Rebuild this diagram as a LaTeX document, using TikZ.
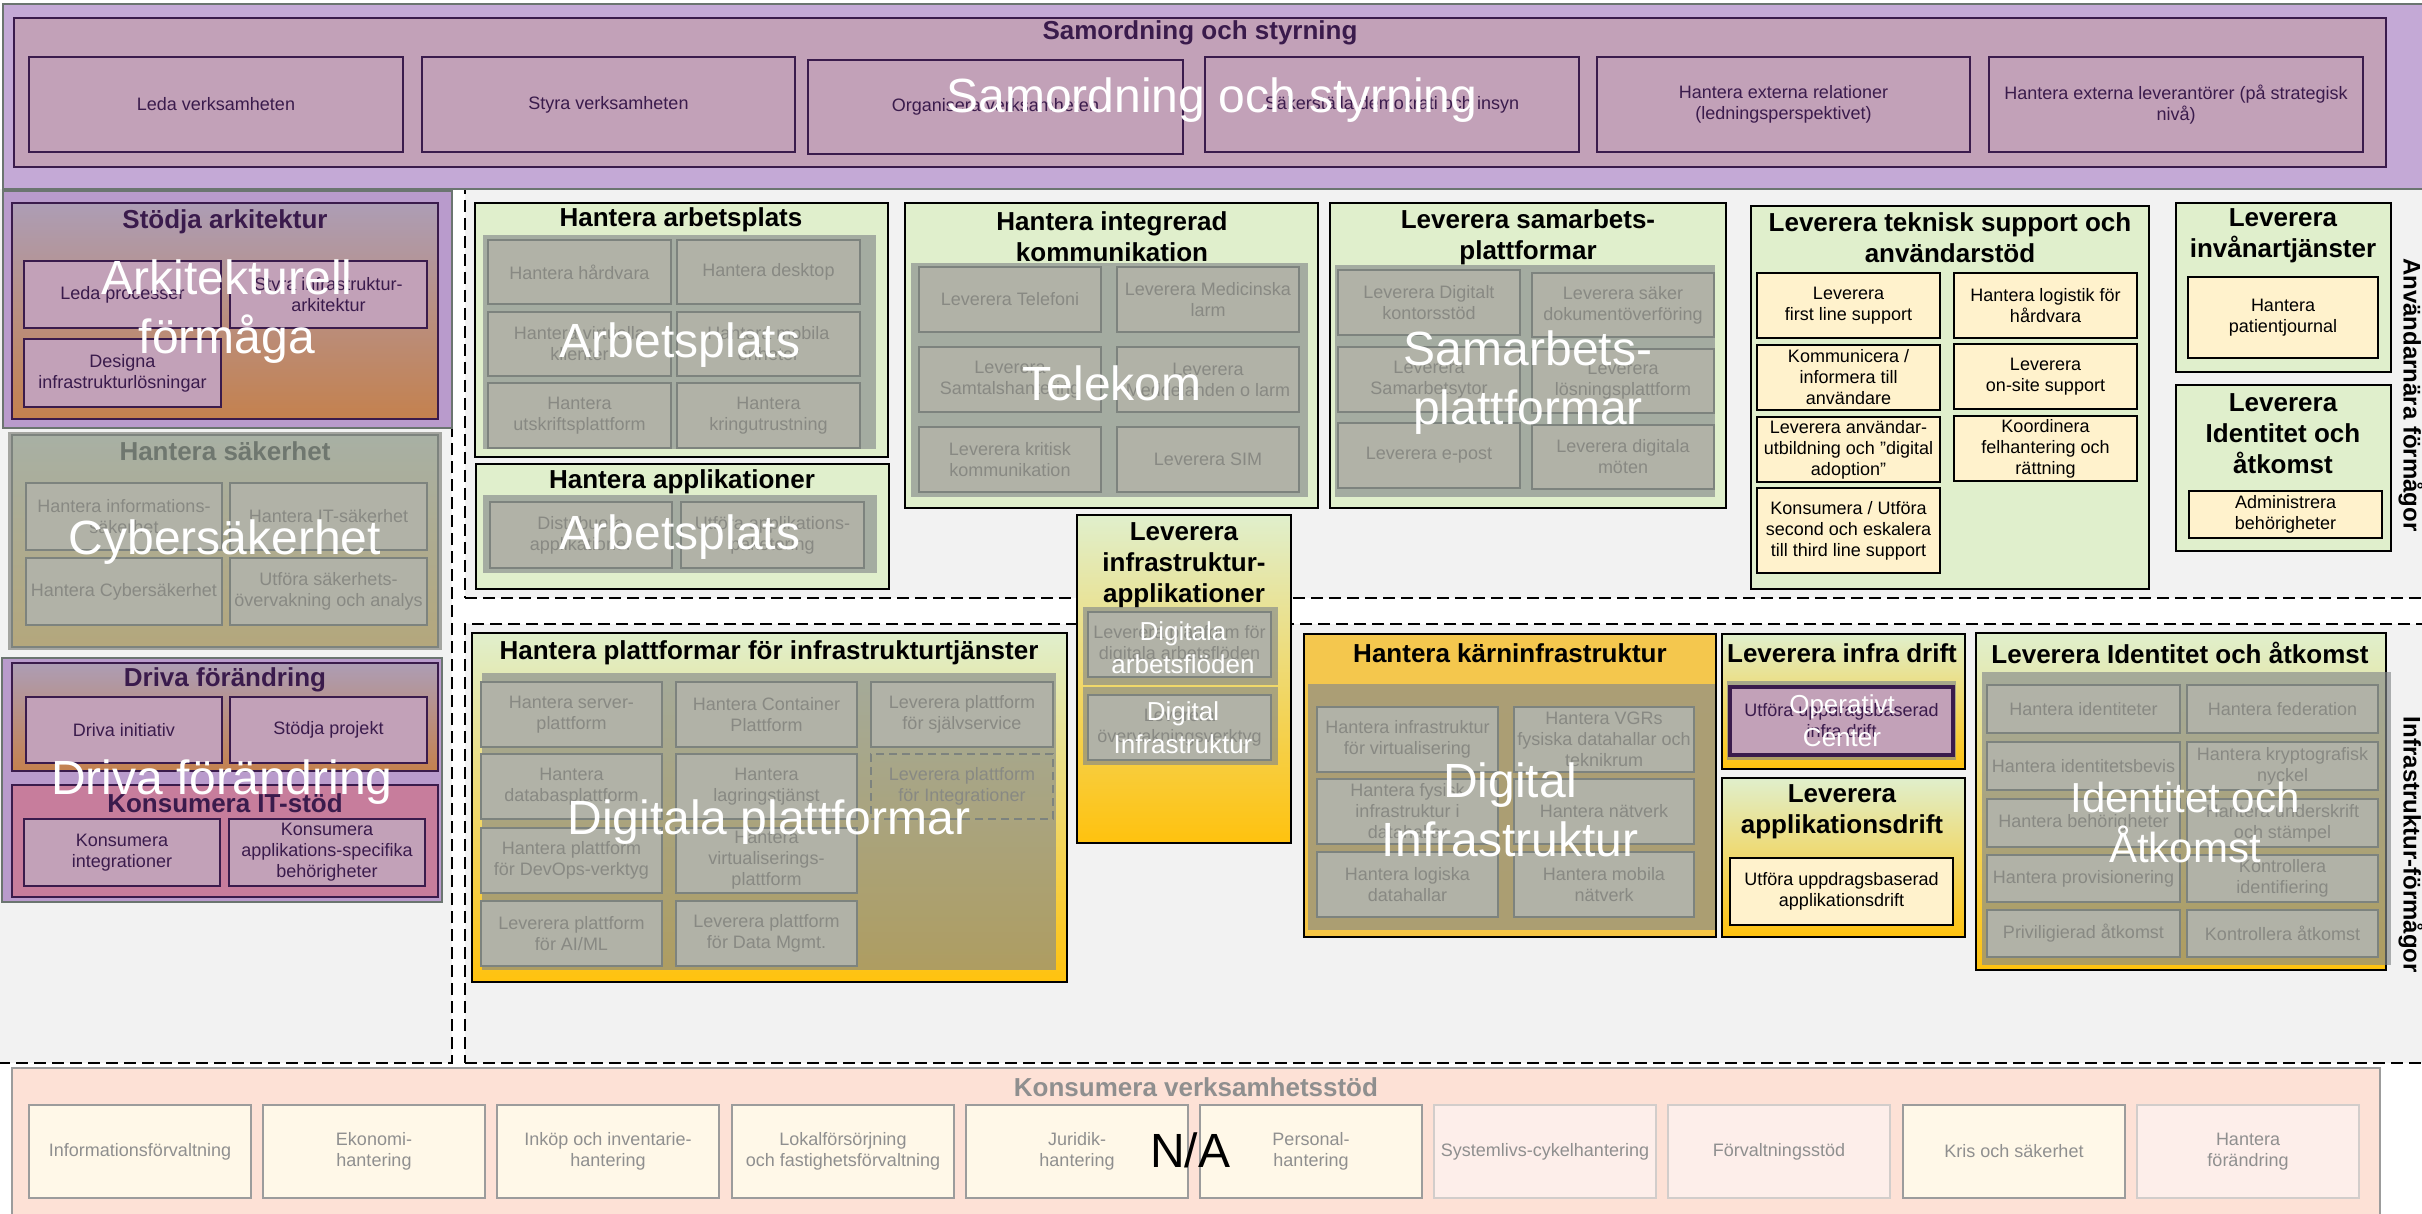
\documentclass[tikz,border=0pt]{standalone}
\usepackage{fontspec}
\setmainfont{Liberation Sans}
\definecolor{cBg}{HTML}{F2F2F2}
\definecolor{cBand}{HTML}{C4A9D6}
\definecolor{cBandLine}{HTML}{6B7570}
\definecolor{cMauve}{HTML}{C2A1B8}
\definecolor{cDark}{HTML}{3A1B4C}
\definecolor{cGrpP}{HTML}{B99BCC}
\definecolor{cGradTop}{HTML}{AD9DB5}
\definecolor{cGradBot}{HTML}{C4814E}
\definecolor{cPink}{HTML}{C77D9C}
\definecolor{cGreen}{HTML}{E0EFCC}
\definecolor{cOrange}{HTML}{FFC20E}
\definecolor{cGold}{HTML}{F4C74E}
\definecolor{cPanel}{HTML}{84898B}
\definecolor{cGbox}{HTML}{B1B2A7}
\definecolor{cGline}{HTML}{7D837E}
\definecolor{cGtext}{HTML}{888983}
\definecolor{cCream}{HTML}{FFF2CC}
\definecolor{cSalmon}{HTML}{FDE1D6}
\definecolor{cBcream}{HTML}{FFF8E8}
\definecolor{cBpink}{HTML}{FDEEEA}
\definecolor{cBline}{HTML}{9C9C9C}
\definecolor{cBline2}{HTML}{D2CDCB}
\definecolor{cBtext}{HTML}{8F8F8F}
\definecolor{cSakTop}{HTML}{A8B0A4}
\definecolor{cSakBot}{HTML}{B4A77C}
\definecolor{cSakTitle}{HTML}{6F776F}
\newcommand\fsA{\fontsize{9}{10.5}\selectfont}
\newcommand\ftA{\fontsize{13}{15.5}\selectfont\bfseries}
\newcommand\foA{\fontsize{24}{29.5}\selectfont}
\newcommand\foB{\fontsize{13}{16.5}\selectfont}
\newcommand\foC{\fontsize{21}{25}\selectfont}
\newcommand\bx[7]{\node[#2,minimum width={(#5-#3)*0.5pt},minimum height={(#6-#4)*0.5pt}] (#1) at ({(#3+#5)/2},{(#4+#6)/2}) {#7};}
\tikzset{
 base/.style={inner sep=0pt,outer sep=0pt,align=center,font=\fsA},
 band/.style={base,fill=cBand,draw=cBandLine,line width=1pt},
 mauve/.style={base,fill=cMauve,draw=cDark,line width=1.3pt,text=cDark},
 grpP/.style={base,fill=cGrpP,draw=cBandLine,line width=1.2pt},
 gradP/.style={base,top color=cGradTop,bottom color=cGradBot,draw=cDark,line width=1.3pt},
 pinkbox/.style={base,fill=cPink,draw=cDark,line width=1.3pt},
 sakbox/.style={base,top color=cSakTop,bottom color=cSakBot,draw=cGline,line width=1.2pt},
 grn/.style={base,fill=cGreen,draw=black,line width=1.3pt},
 grngrad/.style={base,top color=cGreen,bottom color=cOrange,draw=black,line width=1.3pt},
 goldbox/.style={base,top color=cGold,bottom color=cGold!85!cOrange,draw=black,line width=1.3pt},
 panel/.style={base,fill=cPanel,fill opacity=0.65},
 gbox/.style={base,fill=cGbox,draw=cGline,line width=1.1pt,text=cGtext},
 gboxd/.style={gbox,dash pattern=on 4pt off 2.5pt},
 cream/.style={base,fill=cCream,draw=black,line width=1.2pt,text=black},
 ttl/.style={inner sep=0pt,align=center,font=\ftA},
 ovl/.style={inner sep=0pt,align=center,text=white,font=\foA},
 region/.style={base,fill=cBg,draw=black,line width=1.3pt,dash pattern=on 6pt off 3pt},
 bsalmon/.style={base,fill=cSalmon,draw=cBline,line width=1.2pt},
 bcream/.style={base,fill=cBcream,draw=cBline,line width=1.2pt,text=cBtext},
 bpink/.style={base,fill=cBpink,draw=cBline2,line width=1.2pt,text=cBtext},
 sidelbl/.style={inner sep=0pt,font=\fontsize{12}{14}\selectfont\bfseries,rotate=-90}
}
\begin{document}
\begin{tikzpicture}[x=0.5pt,y=-0.5pt]
\useasboundingbox (0,0) rectangle (2422,1214);
\clip (0,0) rectangle (2422,1214);
\fill[white] (0,0) rectangle (2422,1214);
% regions
\bx{regL}{region}{-20}{189}{452}{1063}{}
\bx{regA}{region}{465}{189}{2460}{598}{}
\bx{regB}{region}{465}{624}{2460}{1063}{}
% top band
\bx{band}{band}{3}{4}{2460}{189}{}
\bx{samo}{mauve}{14}{18}{2386}{167}{}
\node[ttl,text=cDark] (samo-t) at (1200,33) {Samordning och styrning};
\bx{s1}{mauve}{29}{57}{403}{152}{Leda verksamheten}
\bx{s2}{mauve}{422}{57}{795}{152}{Styra verksamheten}
\bx{s3}{mauve}{808}{60}{1183}{154}{Organisera verksamheten}
\bx{s4}{mauve}{1205}{57}{1579}{152}{Säkerställa demokrati och insyn}
\bx{s5}{mauve}{1597}{57}{1970}{152}{Hantera externa relationer\\(ledningsperspektivet)}
\bx{s6}{mauve}{1989}{57}{2363}{152}{Hantera externa leverantörer (på strategisk\\nivå)}
% left column: arkitektur
\bx{arkg}{grpP}{3}{191}{452}{428}{}
\bx{stod}{gradP}{12}{203}{438}{419}{}
\node[ttl,text=cDark] (stod-t) at (225,222) {Stödja arkitektur};
\bx{lp}{mauve}{24}{261}{221}{328}{Leda processer}
\bx{sia}{mauve}{230}{261}{427}{328}{Styra infrastruktur-\\arkitektur}
\bx{dil}{mauve}{24}{339}{221}{407}{Designa\\infrastrukturlösningar}
% sakerhet
\bx{sako}{base,fill=cBline!60!cGbox}{8}{432}{442}{650}{}
\bx{sak}{sakbox}{12}{435}{438}{647}{}
\node[ttl,text=cSakTitle] (sak-t) at (225,451) {Hantera säkerhet};
\bx{hi}{gbox}{26}{483}{222}{550}{Hantera informations-\\säkerhet}
\bx{hit}{gbox}{230}{483}{427}{550}{Hantera IT-säkerhet}
\bx{hc}{gbox}{26}{558}{222}{625}{Hantera Cybersäkerhet}
\bx{us}{gbox}{230}{558}{427}{625}{Utföra säkerhets-\\övervakning och analys}
% driva
\bx{drg}{grpP}{2}{658}{442}{902}{}
\bx{dri}{gradP}{12}{663}{438}{771}{}
\node[ttl,text=cDark] (dri-t) at (225,680) {Driva förändring};
\bx{di}{mauve}{26}{697}{222}{763}{Driva initiativ}
\bx{sp}{mauve}{230}{697}{427}{763}{Stödja projekt}
\bx{kit}{pinkbox}{12}{785}{438}{897}{}
\node[ttl,text=cDark] (kit-t) at (225,803) {Konsumera IT-stöd};
\bx{ki}{mauve}{24}{819}{220}{886}{Konsumera\\integrationer}
\bx{ka}{mauve}{229}{819}{425}{886}{Konsumera\\applikations-specifika\\behörigheter}
% region A: arbetsplats
\bx{arb}{grn}{475}{203}{888}{457}{}
\node[ttl] (arb-t) at (681,220) {Hantera arbetsplats};
\bx{arbp}{panel}{483}{235}{876}{449}{}
\bx{a1}{gbox}{488}{240}{671}{304}{Hantera hårdvara}
\bx{a2}{gbox}{677}{240}{860}{304}{Hantera desktop}
\bx{a3}{gbox}{488}{312}{671}{376}{Hantera virtuella\\klienter}
\bx{a4}{gbox}{677}{312}{860}{376}{Hantera mobila\\enheter}
\bx{a5}{gbox}{488}{383}{671}{448}{Hantera\\utskriftsplattform}
\bx{a6}{gbox}{677}{383}{860}{448}{Hantera\\kringutrustning}
\bx{app}{grn}{476}{464}{889}{589}{}
\node[ttl] (app-t) at (682,482) {Hantera applikationer};
\bx{appp}{panel}{483}{495}{877}{573}{}
\bx{ap1}{gbox}{490}{502}{672}{568}{Distribuera\\applikationer}
\bx{ap2}{gbox}{681}{502}{864}{568}{Utföra applikations-\\paketering}
% kommunikation
\bx{kom}{grn}{905}{203}{1318}{508}{}
\node[ttl] (kom-t) at (1112,237) {Hantera integrerad\\kommunikation};
\bx{komp}{panel}{911}{263}{1308}{497}{}
\bx{k1}{gbox}{919}{267}{1101}{332}{Leverera Telefoni}
\bx{k2}{gbox}{1117}{267}{1299}{332}{Leverera Medicinska\\larm}
\bx{k3}{gbox}{919}{347}{1101}{412}{Leverera\\Samtalshantering}
\bx{k4}{gbox}{1117}{347}{1299}{412}{Leverera\\Meddelanden o larm}
\bx{k5}{gbox}{919}{427}{1101}{492}{Leverera kritisk\\kommunikation}
\bx{k6}{gbox}{1117}{427}{1299}{492}{Leverera SIM}
% samarbets
\bx{sam}{grn}{1330}{203}{1726}{508}{}
\node[ttl] (sam-t) at (1528,237) {Leverera samarbets-\\plattformar};
\bx{samp}{panel}{1335}{265}{1715}{497}{}
\bx{m1}{gbox}{1338}{270}{1520}{335}{Leverera Digitalt\\kontorsstöd}
\bx{m2}{gbox}{1532}{273}{1714}{337}{Leverera säker\\dokumentöverföring}
\bx{m3}{gbox}{1338}{347}{1520}{412}{Leverera\\Samarbetsytor}
\bx{m4}{gbox}{1532}{349}{1714}{413}{Leverera\\lösningsplattform}
\bx{m5}{gbox}{1338}{423}{1520}{488}{Leverera e-post}
\bx{m6}{gbox}{1532}{425}{1714}{489}{Leverera digitala\\möten}
% support
\bx{sup}{grn}{1751}{206}{2149}{589}{}
\node[ttl] (sup-t) at (1950,238) {Leverera teknisk support och\\användarstöd};
\bx{u1}{cream}{1757}{273}{1940}{338}{Leverera\\first line support}
\bx{u2}{cream}{1954}{273}{2137}{338}{Hantera logistik för\\hårdvara}
\bx{u3}{cream}{1757}{345}{1940}{410}{Kommunicera /\\informera till\\användare}
\bx{u4}{cream}{1954}{344}{2137}{409}{Leverera\\on-site support}
\bx{u5}{cream}{1757}{417}{1940}{482}{Leverera användar-\\utbildning och ”digital\\adoption”}
\bx{u6}{cream}{1954}{416}{2137}{481}{Koordinera\\felhantering och\\rättning}
\bx{u7}{cream}{1757}{488}{1940}{573}{Konsumera / Utföra\\second och eskalera\\till third line support}
% invanare
\bx{inv}{grn}{2176}{203}{2391}{372}{}
\node[ttl] (inv-t) at (2283,236) {Leverera\\invånartjänster};
\bx{pj}{cream}{2188}{277}{2378}{358}{Hantera\\patientjournal}
\bx{ida}{grn}{2176}{385}{2391}{551}{}
\node[ttl] (ida-t) at (2283,434) {Leverera\\Identitet och\\åtkomst};
\bx{ab}{cream}{2189}{491}{2382}{538}{Administrera\\behörigheter}
\node[sidelbl] (lblA) at (2411,395) {Användarnära förmågor};
% region B: plattformar
\bx{pla}{grngrad}{472}{633}{1067}{982}{}
\node[ttl] (pla-t) at (769,653) {Hantera plattformar för infrastrukturtjänster};
\bx{plap}{panel}{482}{673}{1056}{970}{}
\bx{p1}{gbox}{481}{682}{662}{747}{Hantera server-\\plattform}
\bx{p2}{gbox}{676}{682}{857}{747}{Hantera Container\\Plattform}
\bx{p3}{gbox}{871}{682}{1053}{747}{Leverera plattform\\för självservice}
\bx{p4}{gbox}{481}{754}{662}{819}{Hantera\\databasplattform}
\bx{p5}{gbox}{676}{754}{857}{819}{Hantera\\lagringstjänst}
\bx{p6}{gboxd,fill=none}{871}{754}{1053}{819}{Leverera plattform\\för Integrationer}
\bx{p7}{gbox}{481}{828}{662}{893}{Hantera plattform\\för DevOps-verktyg}
\bx{p8}{gbox}{676}{828}{857}{893}{Hantera\\virtualiserings-\\plattform}
\bx{p9}{gbox}{481}{901}{662}{966}{Leverera plattform\\för AI/ML}
\bx{p10}{gbox}{676}{901}{857}{966}{Leverera plattform\\för Data Mgmt.}
% infra applikationer
\bx{ia}{grngrad}{1077}{515}{1291}{843}{}
\node[ttl] (ia-t) at (1184,565) {Leverera\\infrastruktur-\\applikationer};
\bx{iap1}{panel}{1083}{607}{1278}{685}{}
\bx{iap2}{panel}{1083}{687}{1278}{765}{}
\bx{ia1}{gbox}{1088}{612}{1271}{677}{Leverera plattform för\\digitala arbetsflöden}
\bx{ia2}{gbox}{1088}{695}{1271}{760}{Leverera\\övervakningsverktyg}
% karninfrastruktur
\bx{kar}{goldbox}{1304}{634}{1716}{937}{}
\node[ttl] (kar-t) at (1510,653) {Hantera kärninfrastruktur};
\bx{karp}{panel}{1308}{684}{1715}{930}{}
\bx{c1}{gbox}{1317}{707}{1498}{772}{Hantera infrastruktur\\för virtualisering}
\bx{c2}{gbox}{1514}{707}{1694}{772}{Hantera VGRs\\fysiska datahallar och\\teknikrum}
\bx{c3}{gbox}{1317}{779}{1498}{844}{Hantera fysisk\\infrastruktur i\\datahallar}
\bx{c4}{gbox}{1514}{779}{1694}{844}{Hantera nätverk}
\bx{c5}{gbox}{1317}{852}{1498}{917}{Hantera logiska\\datahallar}
\bx{c6}{gbox}{1514}{852}{1694}{917}{Hantera mobila\\nätverk}
% infra drift
\bx{idr}{grngrad}{1722}{634}{1965}{769}{}
\node[ttl] (idr-t) at (1842,653) {Leverera infra drift};
\bx{idrp}{panel}{1727}{681}{1956}{760}{}
\bx{idr1}{mauve,line width=1.6pt}{1730}{687}{1953}{755}{Utföra uppdragsbaserad\\infra drift}
\bx{adr}{grngrad}{1722}{778}{1965}{937}{}
\node[ttl] (adr-t) at (1842,812) {Leverera\\applikationsdrift};
\bx{adr1}{cream}{1730}{858}{1953}{925}{Utföra uppdragsbaserad\\applikationsdrift}
% identitet
\bx{idb}{grngrad}{1976}{633}{2386}{970}{}
\node[ttl] (idb-t) at (2180,653) {Leverera Identitet och åtkomst};
\bx{idbp}{panel}{1982}{672}{2391}{965}{}
\bx{i1}{gbox}{1987}{685}{2180}{733}{Hantera identiteter}
\bx{i2}{gbox}{2187}{685}{2378}{733}{Hantera federation}
\bx{i3}{gbox}{1987}{742}{2180}{790}{Hantera identitetsbevis}
\bx{i4}{gbox}{2187}{742}{2378}{790}{Hantera kryptografisk\\nyckel}
\bx{i5}{gbox}{1987}{799}{2180}{847}{Hantera behörigheter}
\bx{i6}{gbox}{2187}{799}{2378}{847}{Hantera underskrift\\och stämpel}
\bx{i7}{gbox}{1987}{855}{2180}{902}{Hantera provisionering}
\bx{i8}{gbox}{2187}{855}{2378}{902}{Kontrollera\\identifiering}
\bx{i9}{gbox}{1987}{910}{2180}{957}{Priviligierad åtkomst}
\bx{i10}{gbox}{2187}{910}{2378}{957}{Kontrollera åtkomst}
\node[sidelbl] (lblB) at (2411,845) {Infrastruktur-förmågor};
% bottom
\bx{kv}{bsalmon}{12}{1068}{2380}{1240}{}
\node[ttl,text=cBtext] (kv-t) at (1196,1087) {Konsumera verksamhetsstöd};
\bx{b1}{bcream}{29}{1105}{251}{1198}{Informationsförvaltning}
\bx{b2}{bcream}{263}{1105}{485}{1198}{Ekonomi-\\hantering}
\bx{b3}{bcream}{497}{1105}{719}{1198}{Inköp och inventarie-\\hantering}
\bx{b4}{bcream}{732}{1105}{954}{1198}{Lokalförsörjning\\och fastighetsförvaltning}
\bx{b5}{bcream}{966}{1105}{1188}{1198}{Juridik-\\hantering}
\bx{b6}{bcream}{1200}{1105}{1422}{1198}{Personal-\\hantering}
\bx{b7}{bpink}{1434}{1105}{1656}{1198}{Systemlivs-cykelhantering}
\bx{b8}{bpink}{1668}{1105}{1890}{1198}{Förvaltningsstöd}
\bx{b9}{bcream}{1903}{1105}{2125}{1198}{Kris och säkerhet}
\bx{b10}{bpink}{2137}{1105}{2359}{1198}{Hantera\\förändring}
% overlays
\node[ovl] (o1) at (1212,100) {Samordning och styrning};
\node[ovl] (o2) at (227,312) {Arkitekturell\\förmåga};
\node[ovl] (o3) at (225,542) {Cybersäkerhet};
\node[ovl] (o4) at (222,782) {Driva förändring};
\node[ovl] (o5) at (680,345) {Arbetsplats};
\node[ovl] (o6) at (680,537) {Arbetsplats};
\node[ovl] (o7) at (1112,383) {Telekom};
\node[ovl] (o8) at (1528,383) {Samarbets-\\plattformar};
\node[ovl] (o9) at (769,822) {Digitala plattformar};
\node[ovl,font=\foB] (o10) at (1183,648) {Digitala\\arbetsflöden};
\node[ovl,font=\foB] (o11) at (1183,728) {Digital\\Infrastruktur};
\node[ovl] (o12) at (1510,810) {Digital\\Infrastruktur};
\node[ovl,font=\foB] (o13) at (1842,721) {Operativt\\Center};
\node[ovl,font=\foC] (o14) at (2185,822) {Identitet och\\Åtkomst};
\node[inner sep=0pt,font=\foA,text=black] (na) at (1190,1150) {N/A};
\end{tikzpicture}
\end{document}
